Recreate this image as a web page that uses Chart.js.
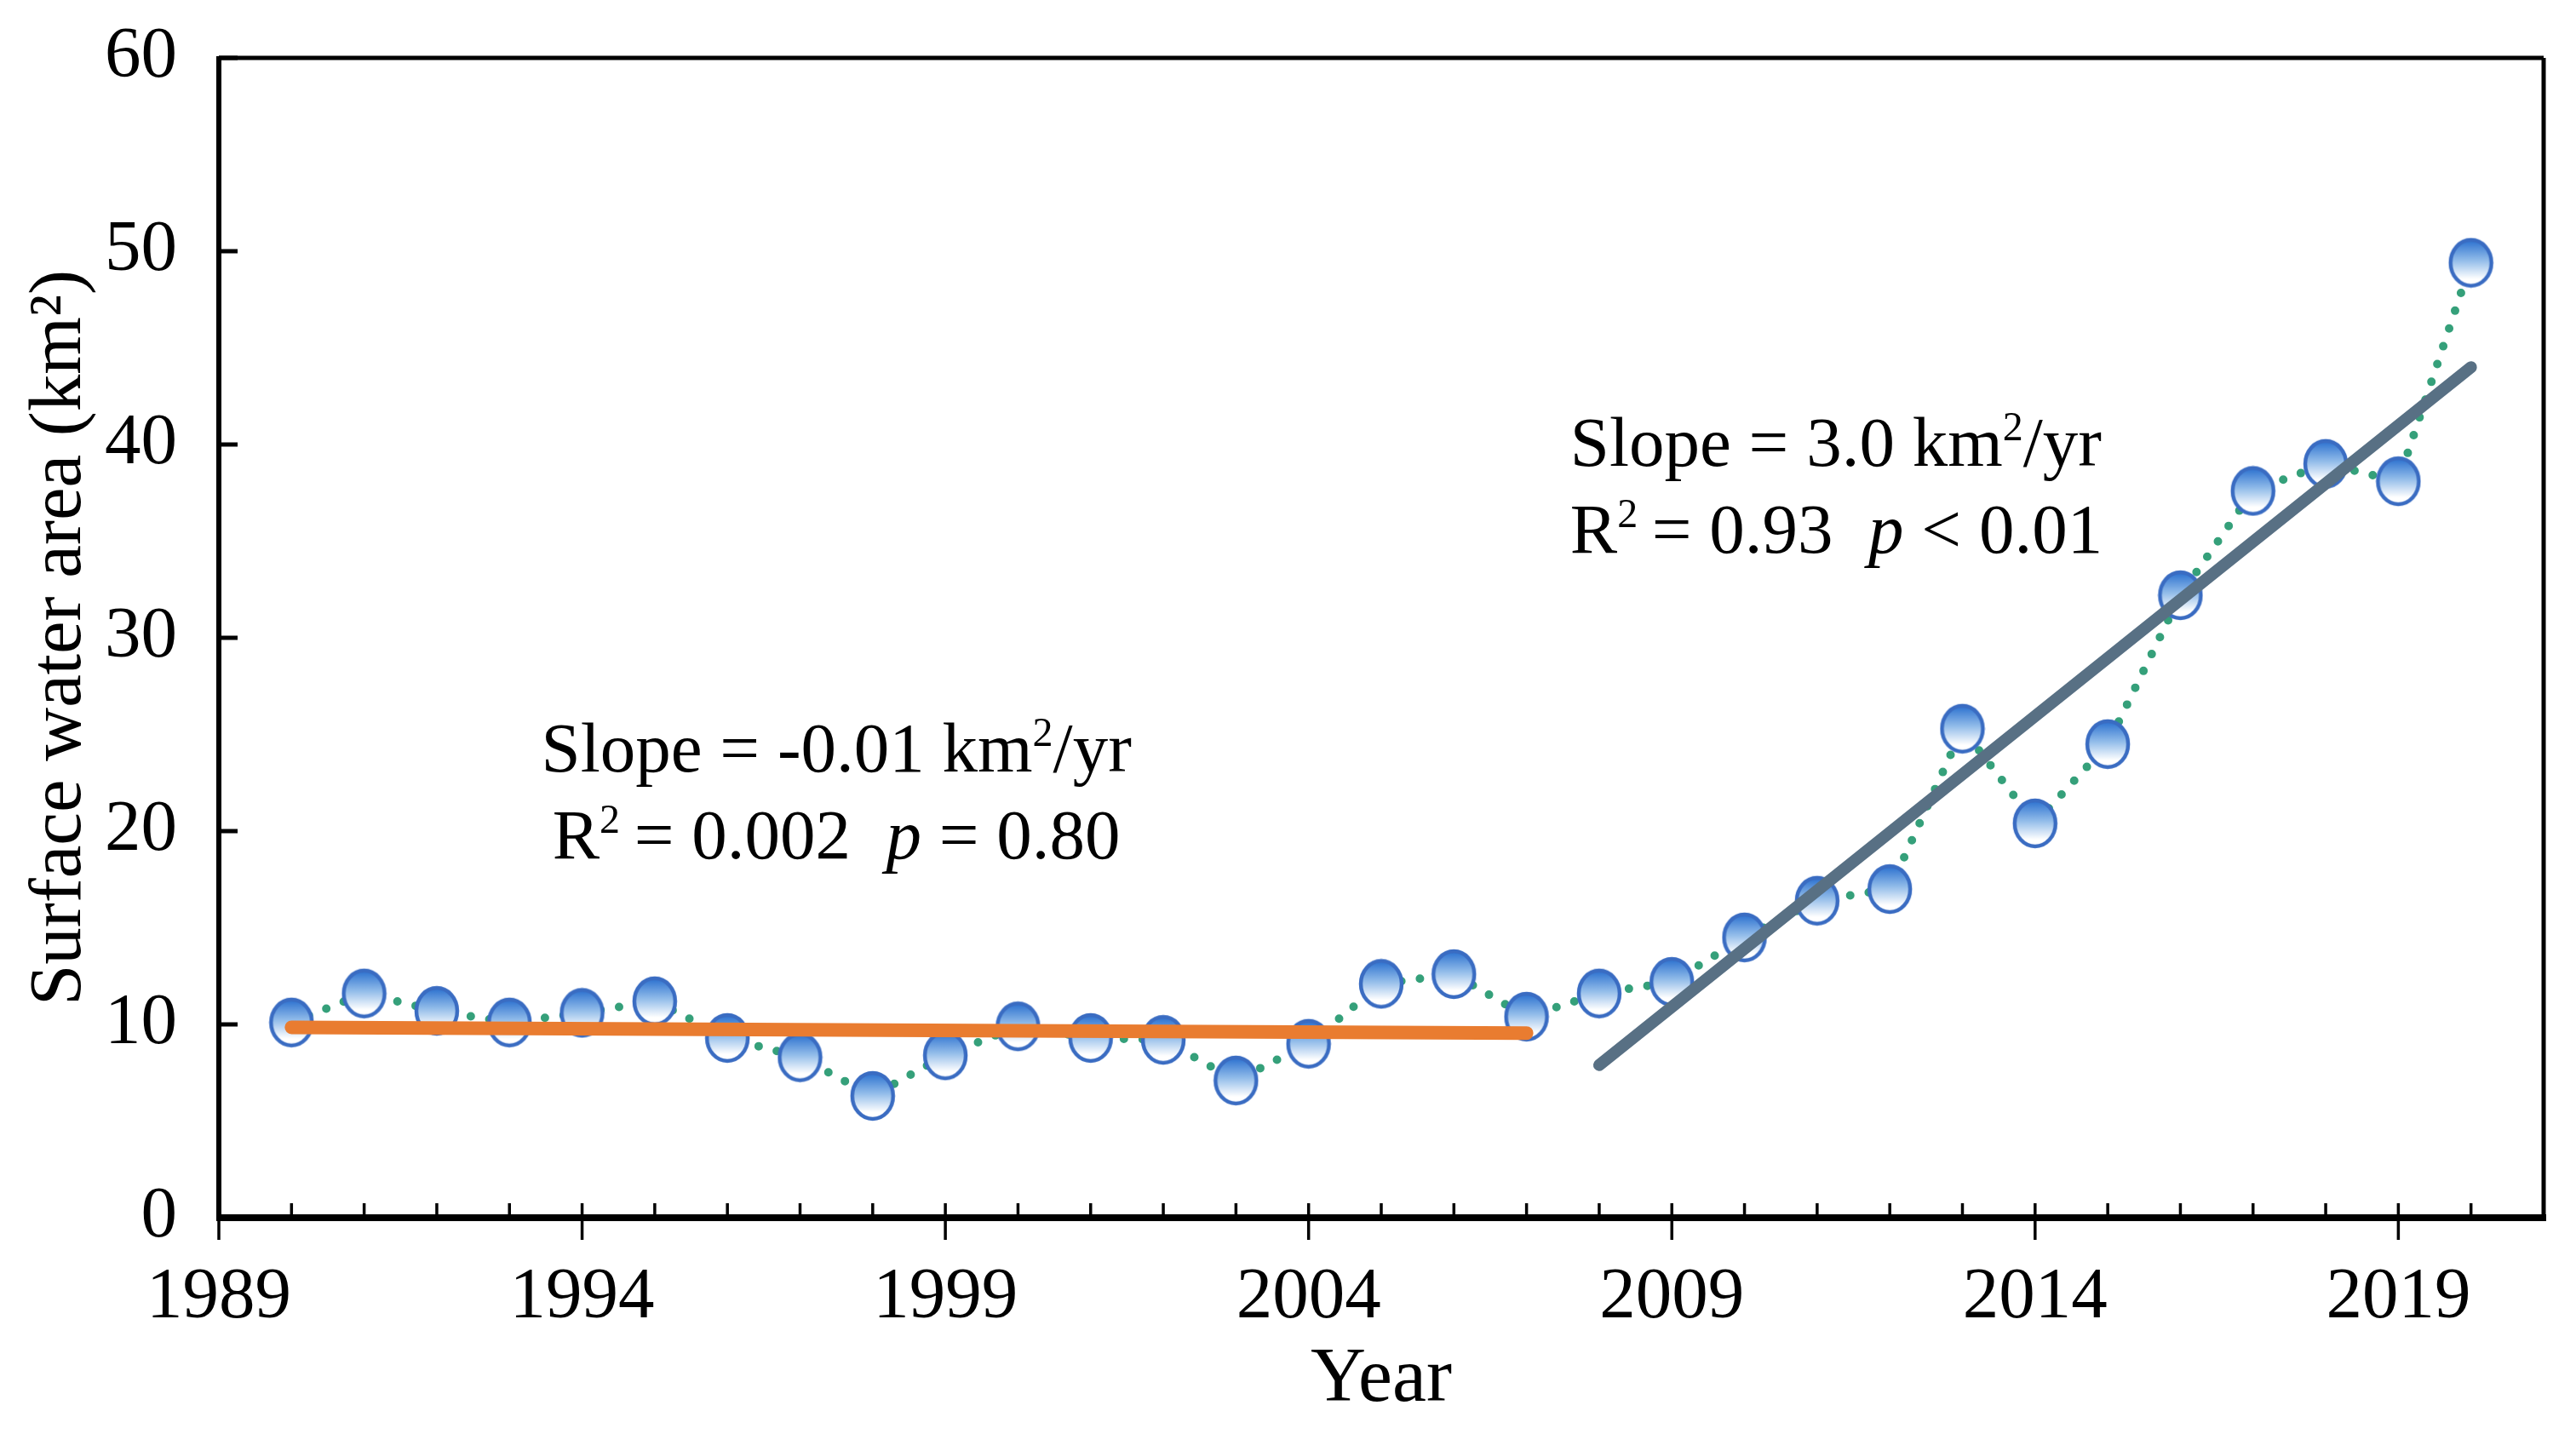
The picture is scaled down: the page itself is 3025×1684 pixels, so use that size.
<!DOCTYPE html>
<html>
<head>
<meta charset="utf-8">
<script src="https://cdn.jsdelivr.net/npm/chart.js@4/dist/chart.umd.min.js"></script>
<style>
html,body{margin:0;padding:0;background:#fff;}
#c{display:block;}
</style>
</head>
<body>
<canvas id="c" width="3025" height="1684"></canvas>
<script>
// ---- data ----
const years = [1990,1991,1992,1993,1994,1995,1996,1997,1998,1999,2000,2001,2002,2003,2004,2005,2006,2007,2008,2009,2010,2011,2012,2013,2014,2015,2016,2017,2018,2019,2020];
const area  = [10.1,11.6,10.7,10.1,10.6,11.2,9.3,8.3,6.3,8.4,9.9,9.3,9.2,7.1,9.0,12.1,12.6,10.4,11.6,12.2,14.5,16.4,17.0,25.3,20.4,24.5,32.2,37.6,39.0,38.1,49.4];
const trend1Years = [1990, 2007];
const trend1Vals  = [9.85, 9.55];
const trend2Years = [2008, 2020];
const trend2Vals  = [7.9, 44.0];
const xTickYears = [1989,1994,1999,2004,2009,2014,2019];
const yTickVals  = [0,10,20,30,40,50,60];
const xTitle = 'Year';
const yTitle = 'Surface water area (km²)';
const annot1 = {x: 1997.5, y: 23.1, lines: [
  [{t:'Slope = -0.01 km'},{t:'2',sup:true},{t:'/yr'}],
  [{t:'R'},{t:'2',sup:true},{t:'\u2009= 0.002  '},{t:'p',it:true},{t:' = 0.80'}]
]};
const annot2 = {x: 2007.6, y: 38.9, lines: [
  [{t:'Slope = 3.0 km'},{t:'2',sup:true},{t:'/yr'}],
  [{t:'R'},{t:'2',sup:true},{t:'\u2009= 0.93  '},{t:'p',it:true},{t:' < 0.01'}]
]};

const FONT = "'Liberation Serif', 'Times New Roman', serif";

// marker image
function makeMarker(){
  const w = 54, h = 60;
  const cv = document.createElement('canvas');
  cv.width = w; cv.height = h;
  const g = cv.getContext('2d');
  const grad = g.createLinearGradient(0, 3, 0, h-3);
  grad.addColorStop(0, '#2a70cf');
  grad.addColorStop(0.45, '#93bdea');
  grad.addColorStop(0.85, '#ffffff');
  grad.addColorStop(1, '#ffffff');
  g.beginPath();
  g.ellipse(w/2, h/2, w/2-3, h/2-3, 0, 0, Math.PI*2);
  g.fillStyle = grad;
  g.fill();
  g.lineWidth = 4.5;
  g.strokeStyle = '#3a6cc2';
  g.stroke();
  return cv;
}
const marker = makeMarker();

const framePlugin = {
  id: 'frame',
  afterDatasetsDraw(chart){
    const {ctx, chartArea: a, scales: {x, y}} = chart;
    ctx.save();
    ctx.strokeStyle = '#000';
    ctx.lineCap = 'butt';
    const yAxis = a.bottom;
    ctx.lineWidth = 3.5;
    for (let yr = Math.ceil(x.min); yr <= x.max; yr++) {
      const px = x.getPixelForValue(yr);
      const major = xTickYears.includes(yr);
      ctx.beginPath();
      if (major) { ctx.moveTo(px, yAxis - 17); ctx.lineTo(px, yAxis + 26); }
      else { ctx.moveTo(px, yAxis - 17); ctx.lineTo(px, yAxis); }
      ctx.stroke();
    }
    ctx.lineWidth = 5;
    yTickVals.forEach(v => {
      const py = y.getPixelForValue(v);
      ctx.beginPath(); ctx.moveTo(a.left, py); ctx.lineTo(a.left + 22, py); ctx.stroke();
    });
    ctx.lineWidth = 5;
    ctx.beginPath(); ctx.moveTo(a.left, a.top); ctx.lineTo(a.right, a.top); ctx.stroke();
    ctx.beginPath(); ctx.moveTo(a.right, a.top); ctx.lineTo(a.right, a.bottom); ctx.stroke();
    ctx.lineWidth = 6;
    ctx.beginPath(); ctx.moveTo(a.left, a.top - 2); ctx.lineTo(a.left, a.bottom + 4); ctx.stroke();
    ctx.lineWidth = 8;
    ctx.beginPath(); ctx.moveTo(a.left - 3, a.bottom); ctx.lineTo(a.right + 3, a.bottom); ctx.stroke();

    function runWidth(r, size){
      ctx.font = (r.it ? 'italic ' : '') + (r.sup ? Math.round(size*0.58) : size) + 'px ' + FONT;
      return ctx.measureText(r.t).width;
    }
    function drawLine(runs, cx, by, size, align){
      let total = 0; runs.forEach(r => total += runWidth(r, size));
      let px = align === 'center' ? cx - total/2 : cx;
      ctx.fillStyle = '#000';
      ctx.textBaseline = 'alphabetic';
      ctx.textAlign = 'left';
      runs.forEach(r => {
        const w = runWidth(r, size);
        ctx.fillText(r.t, px, r.sup ? by - size*0.36 : by);
        px += w;
      });
    }
    const size = 83;
    [[annot1,'center'],[annot2,'left']].forEach(([an, al]) => {
      const px = x.getPixelForValue(an.x);
      const py = y.getPixelForValue(an.y);
      an.lines.forEach((ln, i) => drawLine(ln, px, py + i*102, size, al));
    });
    ctx.restore();
  }
};

new Chart(document.getElementById('c'), {
  type: 'line',
  data: {
    datasets: [
      {
        label: 'trend1',
        data: trend1Years.map((yr, i) => ({x: yr, y: trend1Vals[i]})),
        borderColor: '#e97c30',
        borderWidth: 16,
        borderCapStyle: 'round',
        pointRadius: 0,
        fill: false,
        order: 0
      },
      {
        label: 'trend2',
        data: trend2Years.map((yr, i) => ({x: yr, y: trend2Vals[i]})),
        borderColor: '#587084',
        borderWidth: 14,
        borderCapStyle: 'round',
        pointRadius: 0,
        fill: false,
        order: 0
      },
      {
        label: 'area',
        data: years.map((yr, i) => ({x: yr, y: area[i]})),
        borderColor: '#35a07a',
        borderWidth: 10,
        borderDash: [0, 22],
        borderCapStyle: 'round',
        tension: 0,
        pointStyle: marker,
        pointRadius: 28,
        fill: false,
        order: 1
      }
    ]
  },
  options: {
    responsive: false,
    devicePixelRatio: 1,
    animation: false,
    events: [],
    layout: { padding: { top: 68, right: 31, left: 0, bottom: 0 } },
    plugins: { legend: { display: false }, tooltip: { enabled: false } },
    scales: {
      x: {
        type: 'linear',
        min: 1989, max: 2021,
        afterFit(s){ s.height = 254; s.paddingLeft = 0; s.paddingRight = 0; },
        afterBuildTicks(s){ s.ticks = xTickYears.map(v => ({value: v})); },
        grid: { drawOnChartArea: false, drawTicks: false, display: false },
        border: { display: false },
        ticks: {
          autoSkip: false, maxRotation: 0, padding: 44,
          color: '#000',
          font: { family: FONT, size: 85 },
          callback: v => String(v)
        },
        title: {
          display: true, text: xTitle, color: '#000',
          font: { family: FONT, size: 90 },
          padding: { top: 0, bottom: 9 }
        }
      },
      y: {
        min: 0, max: 60,
        afterFit(s){ s.width = 257; s.paddingTop = 0; s.paddingBottom = 0; },
        afterBuildTicks(s){ s.ticks = yTickVals.map(v => ({value: v})); },
        grid: { drawOnChartArea: false, drawTicks: false, display: false },
        border: { display: false },
        ticks: {
          padding: 49, color: '#000',
          font: { family: FONT, size: 85 }
        },
        title: {
          display: true, text: yTitle, color: '#000',
          font: { family: FONT, size: 87 },
          padding: { top: 19, bottom: 0 }
        }
      }
    }
  },
  plugins: [framePlugin]
});
</script>
</body>
</html>
